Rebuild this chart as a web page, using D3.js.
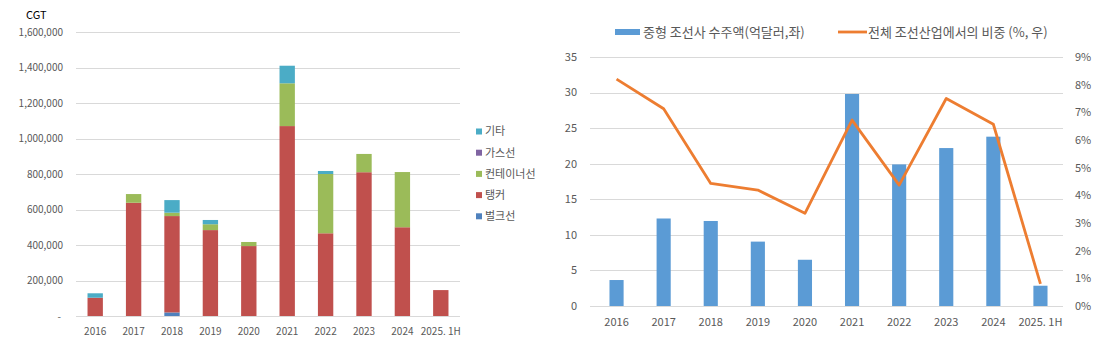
<!DOCTYPE html>
<html>
<head>
<meta charset="utf-8">
<script src="https://cdn.jsdelivr.net/npm/d3@7"></script>
<style>
  html, body { margin: 0; padding: 0; background: #fff; }
  svg text { font-family: "Noto Sans CJK KR", "Noto Sans", sans-serif; fill: #595959; }
</style>
</head>
<body>
<svg id="chart" width="1116" height="343"></svg>
<script>
// ---------- Left chart data (CGT) ----------
const leftCategories = ["2016","2017","2018","2019","2020","2021","2022","2023","2024","2025. 1H"];
const bulk      = [0,      0,      20000,  0,      0,      0,       0,      0,      0,      0];
const tanker    = [103000, 638000, 543000, 484000, 394000, 1070000, 466000, 810000, 500000, 146000];
const container = [0,      49000,  19000,  33000,  23000,  241000,  334000, 103000, 311000, 0];
const gas       = [0,      0,      0,      0,      0,      0,       0,      0,      0,      0];
const other     = [25000,  0,      71000,  24000,  0,      99000,   17000,  0,      0,      0];
const leftTicks = [0, 200000, 400000, 600000, 800000, 1000000, 1200000, 1400000, 1600000];
const seriesNames = ["벌크선","탱커","컨테이너선","가스선","기타"];

// ---------- Right chart data ----------
const rightCategories = ["2016","2017","2018","2019","2020","2021","2022","2023","2024","2025. 1H"];
const orders = [3.65, 12.3, 11.95, 9.05, 6.5, 29.8, 19.9, 22.2, 23.8, 2.85];
const share  = [8.2, 7.13, 4.43, 4.19, 3.35, 6.72, 4.37, 7.5, 6.57, 0.8];
const rightLeftTicks = [0,5,10,15,20,25,30,35];
const rightRightTicks = [0,1,2,3,4,5,6,7,8,9];
const barLegend = "중형 조선사 수주액(억달러,좌)";
const lineLegend = "전체 조선산업에서의 비중 (%, 우)";

const svg = d3.select("#chart");
const colors = {"벌크선":"#4F81BD","탱커":"#C0504D","컨테이너선":"#9BBB59","가스선":"#8064A2","기타":"#4BACC6"};
const grid = "#d9d9d9";

// ================= LEFT CHART =================
{
  const x = d3.scaleBand().domain(leftCategories).range([76, 460]).paddingInner(0.6).paddingOuter(0.3);
  const y = d3.scaleLinear().domain([0, 1600000]).range([316, 32]);
  const g = svg.append("g");

  g.selectAll("line.grid").data(leftTicks).join("line")
    .attr("x1", 76).attr("x2", 460)
    .attr("y1", d => Math.round(y(d)) + 0.5).attr("y2", d => Math.round(y(d)) + 0.5)
    .attr("stroke", grid).attr("stroke-width", 1);

  const fmt = d3.format(",");
  g.selectAll("text.ytick").data(leftTicks).join("text")
    .attr("x", d => d === 0 ? 61 : 63).attr("y", d => y(d)).attr("dy", "0.35em")
    .attr("text-anchor", "end").attr("font-size", 10)
    .text(d => d === 0 ? "-" : fmt(d));

  g.append("text").attr("x", 26).attr("y", 19).attr("font-size", 11).style("fill", "#000").text("CGT");

  const rows = leftCategories.map((c, i) => ({cat: c, "벌크선": bulk[i], "탱커": tanker[i], "컨테이너선": container[i], "가스선": gas[i], "기타": other[i]}));
  const stack = d3.stack().keys(seriesNames)(rows);
  g.selectAll("g.s").data(stack).join("g").attr("fill", d => colors[d.key])
    .selectAll("rect").data(d => d).join("rect")
    .attr("x", d => x(d.data.cat)).attr("width", x.bandwidth())
    .attr("y", d => y(d[1])).attr("height", d => Math.max(0, y(d[0]) - y(d[1])));

  g.selectAll("text.xtick").data(leftCategories).join("text")
    .attr("x", d => x(d) + x.bandwidth()/2).attr("y", 331).attr("dy", "0.35em")
    .attr("text-anchor", "middle").attr("font-size", 10).text(d => d);

  const legendOrder = ["기타","가스선","컨테이너선","탱커","벌크선"];
  const lg = g.selectAll("g.lg").data(legendOrder).join("g")
    .attr("transform", (d, i) => `translate(476, ${131.5 + i * 21.2})`);
  lg.append("rect").attr("x", 0).attr("y", -3).attr("width", 6).attr("height", 6).attr("fill", d => colors[d]);
  lg.append("text").attr("x", 9).attr("y", 0).attr("dy", "0.35em").attr("font-size", 11).text(d => d);
}

// ================= RIGHT CHART =================
{
  const x = d3.scaleBand().domain(rightCategories).range([593, 1064]).paddingInner(0.7).paddingOuter(0.35);
  const yL = d3.scaleLinear().domain([0, 35]).range([306, 57]);
  const yR = d3.scaleLinear().domain([0, 9]).range([306, 57]);
  const g = svg.append("g");

  g.selectAll("line.grid").data(rightLeftTicks).join("line")
    .attr("x1", 590).attr("x2", 1063)
    .attr("y1", d => Math.round(yL(d)) + 0.5).attr("y2", d => Math.round(yL(d)) + 0.5)
    .attr("stroke", grid).attr("stroke-width", 1);

  g.selectAll("text.yl").data(rightLeftTicks).join("text")
    .attr("x", 577).attr("y", d => yL(d)).attr("dy", "0.35em")
    .attr("text-anchor", "end").attr("font-size", 11).text(d => d);

  g.selectAll("text.yr").data(rightRightTicks).join("text")
    .attr("x", 1075).attr("y", d => yR(d)).attr("dy", "0.35em")
    .attr("text-anchor", "start").attr("font-size", 11).text(d => d + "%");

  g.selectAll("rect.bar").data(rightCategories).join("rect")
    .attr("x", d => x(d)).attr("width", x.bandwidth())
    .attr("y", (d, i) => yL(orders[i])).attr("height", (d, i) => yL(0) - yL(orders[i]))
    .attr("fill", "#5B9BD5");

  const line = d3.line().x((d, i) => x(rightCategories[i]) + x.bandwidth()/2).y(d => yR(d));
  g.append("path").datum(share).attr("d", line)
    .attr("fill", "none").attr("stroke", "#ED7D31").attr("stroke-width", 2.8).attr("stroke-linejoin", "round");

  g.selectAll("text.xtick").data(rightCategories).join("text")
    .attr("x", d => x(d) + x.bandwidth()/2).attr("y", 322).attr("dy", "0.35em")
    .attr("text-anchor", "middle").attr("font-size", 11).text(d => d);

  // legend
  g.append("rect").attr("x", 615).attr("y", 29).attr("width", 25).attr("height", 6).attr("fill", "#5B9BD5");
  g.append("text").attr("x", 643).attr("y", 32).attr("dy", "0.35em").attr("font-size", 13).text(barLegend);
  g.append("line").attr("x1", 838).attr("x2", 867).attr("y1", 32).attr("y2", 32)
    .attr("stroke", "#ED7D31").attr("stroke-width", 2.8);
  g.append("text").attr("x", 868).attr("y", 32).attr("dy", "0.35em").attr("font-size", 13).text(lineLegend);
}
</script>
</body>
</html>
